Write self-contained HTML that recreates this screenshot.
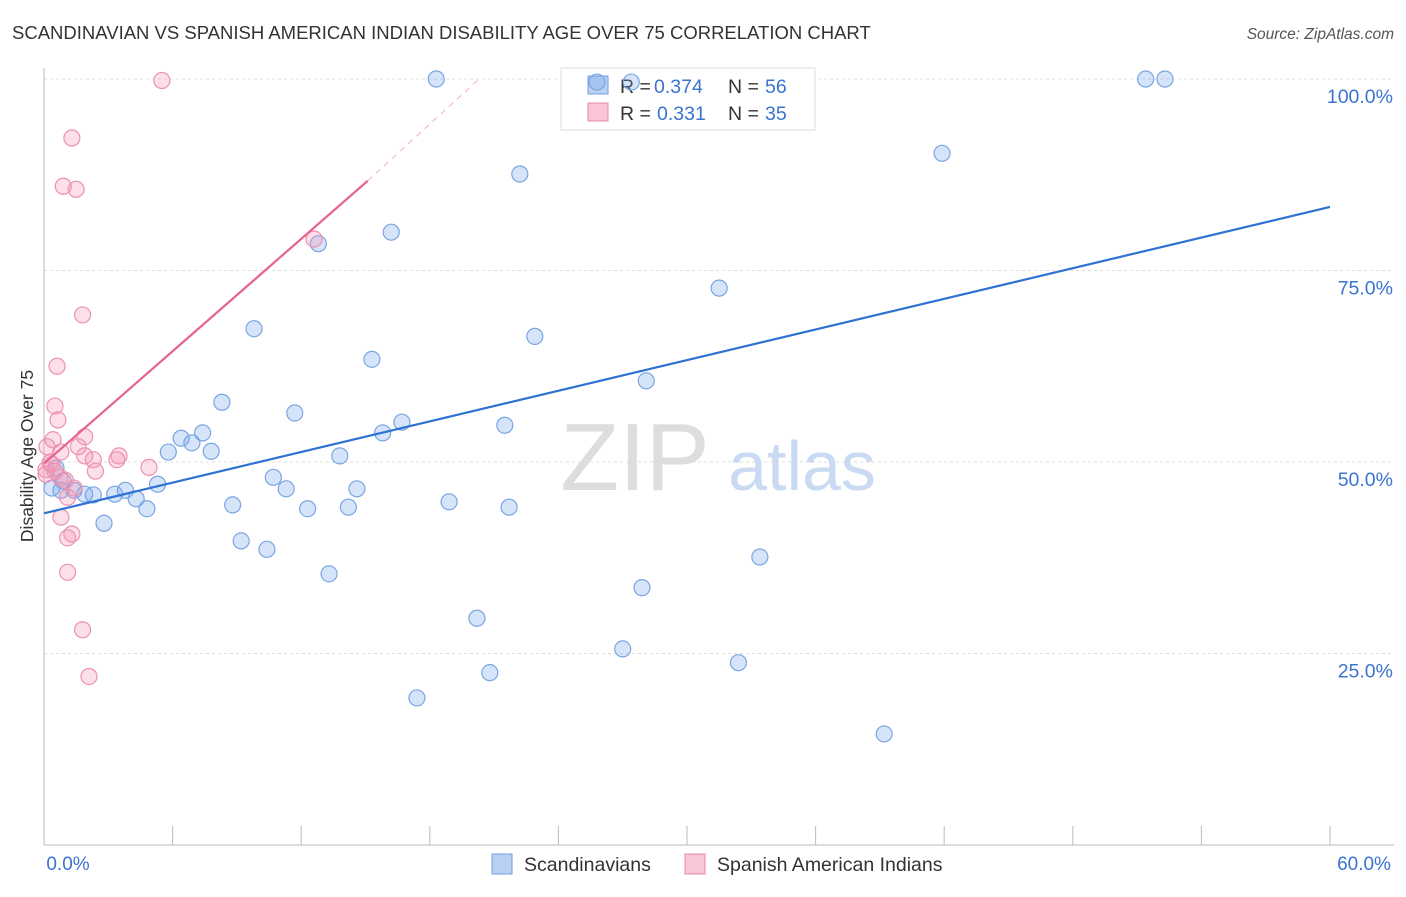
<!DOCTYPE html>
<html><head><meta charset="utf-8"><style>
body{margin:0;background:#fff;font-family:"Liberation Sans",sans-serif;}
svg text{font-family:"Liberation Sans",sans-serif;}
</style></head><body>
<svg id="chart" width="1406" height="892" xmlns="http://www.w3.org/2000/svg">
<text x="12" y="39" font-size="18.5" fill="#333">SCANDINAVIAN VS SPANISH AMERICAN INDIAN DISABILITY AGE OVER 75 CORRELATION CHART</text>
<text x="1394" y="39" font-size="15.5" fill="#555" font-style="italic" text-anchor="end">Source: ZipAtlas.com</text>
<g id="grid"></g>
<g>
<text x="635" y="490" font-size="96" fill="#ddd" font-family="Liberation Serif,serif" text-anchor="middle">ZIP</text>
<text x="802" y="490" font-size="70" fill="#c9daf2" text-anchor="middle">atlas</text>
</g>
<line x1="44" y1="68" x2="44" y2="845" stroke="#bbb"/>
<line x1="44" y1="845" x2="1394" y2="845" stroke="#bbb"/>
<g id="xticks"></g>
<g id="ylabels"></g>
<text x="68" y="870" font-size="19" fill="#3b73d0" text-anchor="middle">0.0%</text>
<text x="1364" y="870" font-size="19" fill="#3b73d0" text-anchor="middle">60.0%</text>
<text transform="translate(33,456) rotate(-90)" font-size="17.5" fill="#333" text-anchor="middle">Disability Age Over 75</text>
<g>
<rect x="561" y="68" width="254" height="62" fill="#fff" stroke="#ddd"/>
<rect x="588" y="76" width="20" height="18" fill="#b9d1f3" stroke="#6f9ee0"/>
<rect x="588" y="103" width="20" height="18" fill="#f9c6d6" stroke="#e88aa8"/>
<text x="620" y="93" font-size="19.5" fill="#333">R =</text>
<text x="654" y="93" font-size="19.5" fill="#3b73d0">0.374</text>
<text x="728" y="93" font-size="19.5" fill="#333">N =</text>
<text x="765" y="93" font-size="19.5" fill="#3b73d0">56</text>
<text x="620" y="120" font-size="19.5" fill="#333">R =</text>
<text x="657" y="120" font-size="19.5" fill="#3b73d0">0.331</text>
<text x="728" y="120" font-size="19.5" fill="#333">N =</text>
<text x="765" y="120" font-size="19.5" fill="#3b73d0">35</text>
</g>
<g id="pts"></g>
<g id="lines"></g>
<g>
<rect x="492" y="854" width="20" height="20" fill="#b9d1f3" stroke="#6f9ee0"/>
<text x="524" y="871" font-size="19.5" fill="#333">Scandinavians</text>
<rect x="685" y="854" width="20" height="20" fill="#f9c6d6" stroke="#e88aa8"/>
<text x="717" y="871" font-size="19.5" fill="#333">Spanish American Indians</text>
</g>
</svg>
<script>
const yTicks=[25,50,75,100];
const yTickLabels=["25.0%","50.0%","75.0%","100.0%"];
const xTicks=[0,6,12,18,24,30,36,42,48,54,60];
const blueX=[18.3,25.8,27.4,51.4,52.3,41.9,22.2,16.2,12.8,31.5,9.8,22.9,15.3,28.1,8.3,11.7,16.7,21.5,15.8,6.4,7.4,6.9,5.8,7.8,13.8,0.56,10.7,0.89,5.3,3.8,11.3,14.6,0.37,0.79,1.4,1.9,2.3,3.3,4.3,8.8,18.9,12.3,14.2,21.7,4.8,2.8,9.2,10.4,13.3,33.4,27.9,20.2,27.0,32.4,20.8,17.4,39.2];
const blueY=[100,99.6,99.6,100,100,90.3,87.6,80.0,78.5,72.7,67.4,66.4,63.4,60.6,57.8,56.4,55.2,54.8,53.8,53.1,53.8,52.5,51.3,51.4,50.8,49.2,48.0,47.5,47.1,46.3,46.5,46.5,46.6,46.3,46.3,45.8,45.7,45.8,45.2,44.4,44.8,43.9,44.1,44.1,43.9,42.0,39.7,38.6,35.4,37.6,33.6,29.6,25.6,23.8,22.5,19.2,14.5];
const pinkX=[5.5,1.3,0.9,1.5,12.6,1.8,0.61,0.51,0.65,0.42,1.9,0.14,0.79,1.6,3.5,1.9,2.3,3.4,4.9,0.37,0.09,2.4,0.75,1.0,1.4,0.09,1.1,0.79,1.3,1.1,1.1,1.8,2.1,0.28,0.51];
const pinkY=[99.8,92.3,86.0,85.6,79.1,69.2,62.5,57.3,55.5,52.9,53.3,52.0,51.3,52.0,50.8,50.8,50.3,50.3,49.3,49.7,49.0,48.8,48.0,47.6,46.6,48.4,45.4,42.8,40.6,40.1,35.6,28.1,22.0,49.9,48.8];
const blueTrend=[[0,43.3],[60,83.3]];
const pinkTrend=[[0,49.8],[15.1,86.7],[20.3,100]];
const X=v=>44+v*(1286/60), Y=v=>845-v*(766/100);
const NS="http://www.w3.org/2000/svg";
function mk(t,a,p){const e=document.createElementNS(NS,t);for(const k in a)e.setAttribute(k,a[k]);p.appendChild(e);return e;}
const grid=document.getElementById('grid'),yl=document.getElementById('ylabels'),xt=document.getElementById('xticks');
yTicks.forEach((v,i)=>{
 const l=mk('line',{x1:44,x2:1394,y1:Y(v),y2:Y(v),stroke:'#ddd','stroke-dasharray':'3,3'},grid);
 
 
 const t=mk('text',{x:1393,y:Y(v)+24,'font-size':19.5,fill:'#3b73d0','text-anchor':'end'},yl);
 t.textContent=yTickLabels[i];
 
 
});
xTicks.forEach(v=>{
 const l=mk('line',{x1:X(v),x2:X(v),y1:826,y2:845,stroke:'#bbb'},xt);
 
 
});
const pts=document.getElementById('pts');
blueX.forEach((v,i)=>{
 const c=mk('circle',{cx:X(v),cy:Y(blueY[i]),r:8,fill:'rgba(120,165,235,0.3)',stroke:'#7aa5e3','stroke-width':1.2},pts);
 
 
});
pinkX.forEach((v,i)=>{
 const c=mk('circle',{cx:X(v),cy:Y(pinkY[i]),r:8,fill:'rgba(245,150,180,0.3)',stroke:'#eb92b0','stroke-width':1.2},pts);
 
 
});
const ln=document.getElementById('lines');
let b=mk('line',{x1:X(blueTrend[0][0]),y1:Y(blueTrend[0][1]),x2:X(blueTrend[1][0]),y2:Y(blueTrend[1][1]),stroke:'#2e72d2','stroke-width':2.2},ln);


let p=mk('line',{x1:X(pinkTrend[0][0]),y1:Y(pinkTrend[0][1]),x2:X(pinkTrend[1][0]),y2:Y(pinkTrend[1][1]),stroke:'#e8628e','stroke-width':2.2},ln);


let pd=mk('line',{x1:X(pinkTrend[1][0]),y1:Y(pinkTrend[1][1]),x2:X(pinkTrend[2][0]),y2:Y(pinkTrend[2][1]),stroke:'#f0b0c4','stroke-width':1,'stroke-dasharray':'6,5'},ln);


</script>
</body></html>
